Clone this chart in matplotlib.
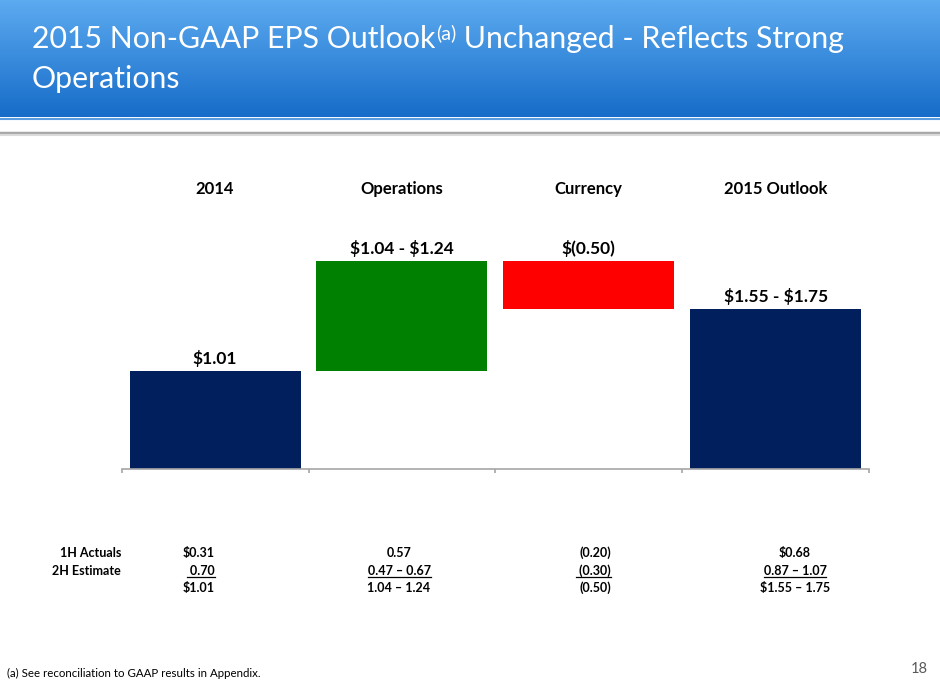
import numpy as np
import matplotlib
matplotlib.use('Agg')
import matplotlib.pyplot as plt
from matplotlib.lines import Line2D

plt.rcParams['font.family'] = ['Lato', 'DejaVu Sans']

# chart data
categories = ['2014', 'Operations', 'Currency', '2015 Outlook']
values = [1.01, 1.14, -0.50, 1.65]          # midpoints of the ranges
is_total = [True, False, False, True]
bar_colors = ['#001F5C', '#008000', '#FF0000', '#001F5C']
bar_labels = ['$1.01', '$1.04 - $1.24', '$(0.50)', '$1.55 - $1.75']

# table under the chart
row_names = ['1H Actuals', '2H Estimate', '']
col_2014 = ['$0.31', ' 0.70', '$1.01']
col_ops = ['0.57', '0.47 \u2013 0.67', '1.04 \u2013 1.24']
col_cur = ['(0.20)', ' (0.30)', '(0.50)']
col_out = ['$0.68', '0.87 \u2013 1.07', '$1.55 \u2013 1.75']

W, H = 940, 686
fig = plt.figure(figsize=(W / 100, H / 100), dpi=100)

# header band with gradient
hdr = fig.add_axes([0, 1 - 117 / H, 1, 117 / H])
top = np.array([92, 170, 240]) / 255
bot = np.array([22, 108, 200]) / 255
t = np.linspace(0, 1, 100)[:, None]
grad = top[None, None, :] * (1 - t[:, :, None]) + bot[None, None, :] * t[:, :, None]
hdr.imshow(grad, aspect='auto', extent=[0, 1, 0, 1])
hdr.set_axis_off()
fig.add_artist(Line2D([0, 1], [1 - 118.5 / H] * 2, color='#5B9BE0', lw=1.5))
fig.add_artist(Line2D([0, 1], [1 - 133 / H] * 2, color='#A8A8A8', lw=2.5))
fig.add_artist(Line2D([0, 1], [1 - 135 / H] * 2, color='#DADADA', lw=1.5))

t1 = fig.text(32 / W, 1 - 48 / H, '2015 Non-GAAP EPS Outlook', color='white',
              fontsize=21.8, va='baseline', ha='left')
sup = plt.annotate('(a)', xy=(1, 0), xycoords=t1, xytext=(0.5, 8), textcoords='offset points',
                   color='white', fontsize=14, va='bottom', ha='left')
plt.annotate(' Unchanged - Reflects Strong', xy=(1, 0), xycoords=sup, xytext=(0, -8),
             textcoords='offset points', color='white', fontsize=21.8, va='bottom', ha='left')
fig.text(32 / W, 1 - 88 / H, 'Operations', color='white', fontsize=21.8,
         va='baseline', ha='left')

# waterfall chart
ax_l, ax_r = 121.7, 869
ax_b, ax_t = 468.5, 170
ax = fig.add_axes([ax_l / W, 1 - ax_b / H, (ax_r - ax_l) / W, (ax_b - ax_t) / H])

x = np.arange(len(categories))
bottoms, heights = [], []
running = 0.0
for v, tot in zip(values, is_total):
    if tot:
        bottoms.append(0.0)
        heights.append(v)
        running = v
    else:
        bottoms.append(running if v > 0 else running + v)
        heights.append(abs(v))
        running += v

ax.bar(x, heights, bottom=bottoms, width=0.915, color=bar_colors, zorder=2)
for xi, b, h, lab in zip(x, bottoms, heights, bar_labels):
    ax.annotate(lab.replace('$', r'\$'), xy=(xi, b + h), xytext=(0, 5),
                textcoords='offset points', ha='center', va='baseline',
                fontsize=12.5, fontweight='bold')
for xi, c in zip(x, categories):
    ax.text(xi, 2.89, c, ha='center', va='center', fontsize=12, fontweight='bold')

ax.set_xlim(-0.5, len(categories) - 0.5)
ax.set_ylim(0, (ax_b - ax_t) / 96.7)
for s in ['top', 'right', 'left']:
    ax.spines[s].set_visible(False)
ax.spines['bottom'].set_color('#A6A6A6')
ax.spines['bottom'].set_linewidth(1.2)
ax.set_yticks([])
ax.set_xticks(np.arange(-0.5, len(categories)))
ax.set_xticklabels([])
ax.tick_params(axis='x', direction='out', length=3, width=1.2, color='#A6A6A6')

# table text
row_base = [557, 575, 592]
tab_texts = []
for i in range(3):
    y = 1 - row_base[i] / H
    fig.text(121 / W, y, row_names[i], ha='right', va='baseline', fontsize=9, fontweight='bold')
    tab_texts.append([
        fig.text(215 / W, y, col_2014[i], ha='right', va='baseline', fontsize=9, fontweight='bold'),
        fig.text(399 / W, y, col_ops[i], ha='center', va='baseline', fontsize=9, fontweight='bold'),
        fig.text(611 / W, y, col_cur[i], ha='right', va='baseline', fontsize=9, fontweight='bold'),
        fig.text(795 / W, y, col_out[i], ha='center', va='baseline', fontsize=9, fontweight='bold'),
    ])

fig.text(7 / W, 1 - 677 / H, '(a) See reconciliation to GAAP results in Appendix.',
         fontsize=8.3, ha='left', va='baseline')
fig.text(928 / W, 1 - 673 / H, '18', fontsize=10.5, color='#595959', ha='right', va='baseline')

# underline the 2H estimate row
fig.canvas.draw()
r = fig.canvas.get_renderer()
for txt in tab_texts[1]:
    bb = txt.get_window_extent(r)
    yl = 1 - (row_base[1] + 2) / H
    fig.add_artist(Line2D([bb.x0 / W, bb.x1 / W], [yl, yl], color='black', lw=0.9))

fig.savefig('out.png', dpi=100)
